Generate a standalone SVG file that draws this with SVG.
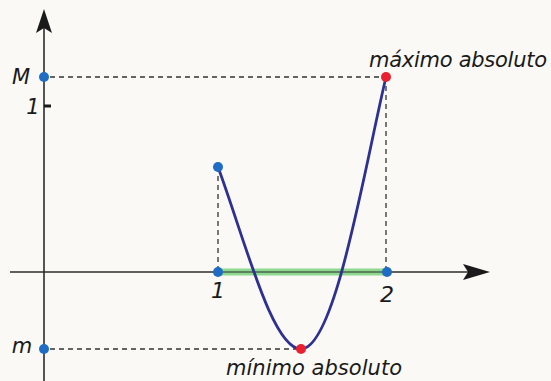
<svg xmlns="http://www.w3.org/2000/svg" width="551" height="381" viewBox="0 0 551 381">
<style>
.ax{stroke:#2b2b2b;stroke-width:1.6;fill:none}
.dash{stroke:#333;stroke-width:1.3;stroke-dasharray:5,4;fill:none}
.lbl{font-family:"DejaVu Sans",sans-serif;font-style:italic;fill:#1a1a1a}
.bp{fill:#1f6cc4}
.rp{fill:#e8202f}
</style>
<rect width="551" height="381" fill="#faf9f6"/>
<g id="connectors">
<line class="ax" x1="44" y1="381" x2="44" y2="24"/>
<path d="M44,9 L52,33 L44,28 L36,33 Z" fill="#1a1a1a"/>
<line class="ax" x1="10" y1="272" x2="480" y2="272"/>
<path d="M490,272 L463,264 L468,272 L463,280 Z" fill="#1a1a1a"/>
<line x1="44" y1="106" x2="51" y2="106" stroke="#1a1a1a" stroke-width="3"/>
<line class="dash" x1="50" y1="77" x2="386" y2="77"/>
<line class="dash" x1="386" y1="77" x2="386" y2="272"/>
<line class="dash" x1="218" y1="167" x2="218" y2="272"/>
<line class="dash" x1="50" y1="349" x2="301" y2="349"/>
<line x1="218" y1="272" x2="387" y2="272" stroke="#8fd88f" stroke-width="7"/>
<line x1="218" y1="272" x2="387" y2="272" stroke="#2b2b2b" stroke-width="1.2"/>
<path d="M218,167 C245,240 272,349 301,349 C335,349 364,170 386,77" fill="none" stroke="#2e3192" stroke-width="2.8"/>
</g>
<g id="pM"><circle class="bp" cx="44" cy="77" r="5"/><text class="lbl" x="21" y="84" font-size="21" text-anchor="middle">M</text></g>
<g id="tick1"><text class="lbl" x="33" y="114" font-size="21" text-anchor="middle">1</text></g>
<g id="pm"><circle class="bp" cx="44" cy="349" r="5"/><text class="lbl" x="22" y="353" font-size="21" text-anchor="middle">m</text></g>
<g id="pStart"><circle class="bp" cx="218" cy="167" r="5"/></g>
<g id="p1"><circle class="bp" cx="218" cy="272" r="5"/><text class="lbl" x="218" y="298" font-size="22" text-anchor="middle">1</text></g>
<g id="p2"><circle class="bp" cx="387" cy="272" r="5"/><text class="lbl" x="387" y="302" font-size="22" text-anchor="middle">2</text></g>
<g id="pMax"><circle class="rp" cx="386" cy="77" r="5"/><text class="lbl" x="369" y="67" font-size="21" textLength="178" lengthAdjust="spacing">máximo absoluto</text></g>
<g id="pMin"><circle class="rp" cx="301" cy="349" r="5"/><text class="lbl" x="226" y="375" font-size="21" textLength="176" lengthAdjust="spacing">mínimo absoluto</text></g>
</svg>
